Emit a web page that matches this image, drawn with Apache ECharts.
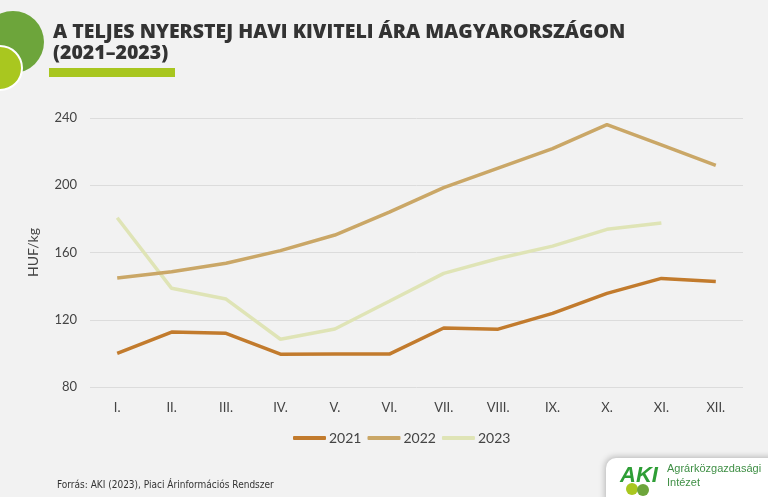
<!DOCTYPE html>
<html>
<head>
<meta charset="utf-8">
<script src="https://cdn.jsdelivr.net/npm/echarts@6/dist/echarts.min.js"></script>
<style>
html,body{margin:0;padding:0;background:#f2f2f2;}
#chart{width:768px;height:497px;}
</style>
</head>
<body>
<div id="chart"></div>
<script>
const months = ['I.','II.','III.','IV.','V.','VI.','VII.','VIII.','IX.','X.','XI.','XII.'];
const seriesNames = ['2021','2022','2023'];
const y2021 = [100.0, 112.7, 111.9, 99.5, 99.6, 99.6, 115.1, 114.4, 123.8, 135.7, 144.6, 142.8];
const y2022 = [144.8, 148.6, 153.6, 161.1, 170.4, 184.0, 198.6, 210.2, 221.8, 236.0, 224.0, 211.8];
const y2023 = [180.7, 138.7, 132.3, 108.4, 114.5, 131.0, 147.6, 156.4, 163.8, 173.8, 177.6];
const yTicks = {min: 80, max: 240, interval: 40};
const colors = ['#c27b2d', '#caa767', '#dfe4b6'];

const chart = echarts.init(document.getElementById('chart'), null, {renderer: 'canvas'});
const font = 'Lato, "Open Sans", sans-serif';
const mk = (name, data, i) => ({
  name: name, type: 'line', data: data, symbol: 'none', smooth: false,
  lineStyle: {color: colors[i], width: 3.5}, itemStyle: {color: colors[i]}, z: 3 + (2 - i)
});
chart.setOption({
  backgroundColor: '#f2f2f2',
  animation: false,
  grid: {left: 90, right: 25, top: 118, bottom: 110},
  xAxis: {
    type: 'category', data: months, boundaryGap: true,
    axisLine: {show: false}, axisTick: {show: false},
    axisLabel: {color: '#444', fontSize: 13, fontFamily: font, margin: 14}
  },
  yAxis: {
    type: 'value', min: yTicks.min, max: yTicks.max, interval: yTicks.interval,
    name: 'HUF/kg', nameLocation: 'middle', nameGap: 50, nameRotate: 90,
    nameTextStyle: {color: '#444', fontSize: 14, fontFamily: font},
    axisLine: {show: false}, axisTick: {show: false},
    axisLabel: {color: '#444', fontSize: 13, fontFamily: font, margin: 13},
    splitLine: {lineStyle: {color: '#dcdcdc', width: 1}}
  },
  legend: {
    data: seriesNames, top: 426, left: 288, itemWidth: 33, itemHeight: 4, itemGap: 6,
    icon: 'roundRect',
    textStyle: {color: '#444', fontSize: 14, fontFamily: font, padding: [0,0,0,-2]}
  },
  series: [mk('2021', y2021, 0), mk('2022', y2022, 1), mk('2023', y2023, 2)],
  graphic: [
    {type: 'circle', shape: {cx: 13, cy: 42, r: 31}, style: {fill: '#6da53b'}, z: 10},
    {type: 'circle', shape: {cx: 0, cy: 68, r: 22}, style: {fill: '#a9c71f', stroke: '#ffffff', lineWidth: 2}, z: 11},
    {type: 'text', left: 53, top: 22, style: {text: 'A TELJES NYERSTEJ HAVI KIVITELI ÁRA MAGYARORSZÁGON', fill: '#333333', font: '800 19.5px "Open Sans", Lato, sans-serif'}, z: 10},
    {type: 'text', left: 53, top: 43, style: {text: '(2021–2023)', fill: '#333333', font: '800 19.5px "Open Sans", Lato, sans-serif'}, z: 10},
    {type: 'rect', shape: {x: 49, y: 68, width: 126, height: 9}, style: {fill: '#a8c61f'}, z: 10},
    {type: 'text', left: 57, top: 480, style: {text: 'Forrás: AKI (2023), Piaci Árinformációs Rendszer', fill: '#333333', font: '10px "DejaVu Sans Condensed", "Liberation Sans Narrow", sans-serif'}, z: 10},
    {type: 'rect', shape: {x: 606, y: 458, width: 170, height: 45, r: [10, 0, 0, 0]}, style: {fill: '#ffffff', shadowBlur: 6, shadowColor: 'rgba(0,0,0,0.25)', shadowOffsetX: -1, shadowOffsetY: -1}, z: 10},
    {type: 'text', left: 620, top: 465, style: {text: 'AKI', fill: '#2e9e36', font: 'italic bold 22px "Liberation Sans", Arial, sans-serif'}, z: 12},
    {type: 'circle', shape: {cx: 632, cy: 489, r: 6}, style: {fill: '#a9c71f'}, z: 13},
    {type: 'circle', shape: {cx: 643, cy: 490, r: 6}, style: {fill: '#6da53b'}, z: 13},
    {type: 'text', left: 667, top: 463, style: {text: 'Agrárközgazdasági', fill: '#3f8f45', font: '11px "Liberation Sans", Arial, sans-serif'}, z: 12},
    {type: 'text', left: 667, top: 477, style: {text: 'Intézet', fill: '#3f8f45', font: '11px "Liberation Sans", Arial, sans-serif'}, z: 12}
  ]
});
</script>
</body>
</html>
